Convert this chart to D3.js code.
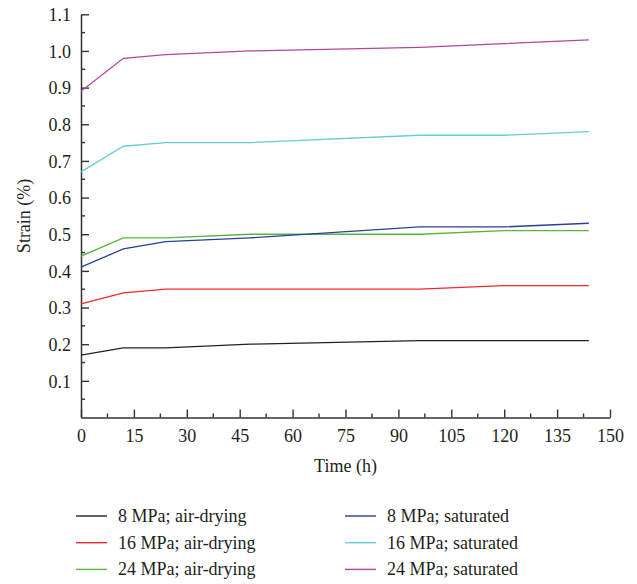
<!DOCTYPE html>
<html>
<head>
<meta charset="utf-8">
<script src="https://cdn.jsdelivr.net/npm/d3@7"></script>
<style>
  html, body { margin: 0; padding: 0; background: #fff; }
  svg { display: block; }
  text { font-family: "Liberation Serif", "DejaVu Serif", serif; fill: #231f20; }
</style>
</head>
<body>
<svg id="chart" width="637" height="584"></svg>
<script>
// Sampling times (h)
const times = [0, 12, 24, 48, 96, 120, 144];

// Strain (%) for each loading case
const air8  = [0.17, 0.19, 0.19, 0.20, 0.21, 0.21, 0.21];
const air16 = [0.31, 0.34, 0.35, 0.35, 0.35, 0.36, 0.36];
const air24 = [0.44, 0.49, 0.49, 0.50, 0.50, 0.51, 0.51];
const sat8  = [0.41, 0.46, 0.48, 0.49, 0.52, 0.52, 0.53];
const sat16 = [0.67, 0.74, 0.75, 0.75, 0.77, 0.77, 0.78];
const sat24 = [0.89, 0.98, 0.99, 1.00, 1.01, 1.02, 1.03];

const seriesNames = [
  "8 MPa; air-drying", "16 MPa; air-drying", "24 MPa; air-drying",
  "8 MPa; saturated", "16 MPa; saturated", "24 MPa; saturated"
];
const seriesColors = ["#222222", "#ee2a2a", "#5ab43c", "#2c3d96", "#66ccdb", "#b0479d"];

const xTicks = [0, 15, 30, 45, 60, 75, 90, 105, 120, 135, 150];
const yTicks = [0.1, 0.2, 0.3, 0.4, 0.5, 0.6, 0.7, 0.8, 0.9, 1.0, 1.1];

const series = [air8, air16, air24, sat8, sat16, sat24].map((vals, i) => ({
  name: seriesNames[i],
  color: seriesColors[i],
  points: vals.map((v, j) => [times[j], v])
}));

const svg = d3.select("#chart");
const x = d3.scaleLinear().domain([0, 150]).range([81, 610]);
const y = d3.scaleLinear().domain([0, 1.1]).range([417.5, 14.3]);

const axisColor = "#333";
const fontSize = "18px";

// Minor ticks (inward)
const xMinor = d3.range(7.5, 150, 15);
const yMinor = d3.range(0.05, 1.1, 0.1);

const gx = svg.append("g").attr("transform", `translate(0,${y(0)})`);
gx.call(d3.axisBottom(x).tickValues(xTicks).tickSizeInner(-8).tickSizeOuter(0).tickPadding(12)
  .tickFormat(d3.format("d")));
gx.selectAll(".minor").data(xMinor).join("line")
  .attr("x1", d => x(d)).attr("x2", d => x(d)).attr("y1", 0).attr("y2", -4);

const gy = svg.append("g").attr("transform", `translate(${x(0)},0)`);
gy.call(d3.axisLeft(y).tickValues(yTicks).tickSizeInner(-8).tickSizeOuter(0).tickPadding(10)
  .tickFormat(d3.format(".1f")));
gy.selectAll(".minor").data(yMinor).join("line")
  .attr("y1", d => y(d)).attr("y2", d => y(d)).attr("x1", 0).attr("x2", 4);

[gx, gy].forEach(g => {
  g.select(".domain").attr("stroke", axisColor).attr("stroke-width", 1.5);
  g.selectAll("line").attr("stroke", axisColor).attr("stroke-width", 1.4);
  g.selectAll("text").style("font-family", '"Liberation Serif", serif')
    .style("font-size", fontSize).attr("fill", "#231f20");
});
gy.selectAll(".tick text").attr("dy", "0.35em");

// Axis titles
svg.append("text").attr("x", (x(0) + x(150)) / 2).attr("y", 472)
  .attr("text-anchor", "middle").style("font-size", fontSize).text("Time (h)");
svg.append("text")
  .attr("transform", `translate(30,${(y(0) + y(1.1)) / 2}) rotate(-90)`)
  .attr("text-anchor", "middle").style("font-size", fontSize).text("Strain (%)");

// Series lines
const line = d3.line().x(d => x(d[0])).y(d => y(d[1]));
svg.append("g").selectAll("path").data(series).join("path")
  .attr("d", d => line(d.points))
  .attr("fill", "none")
  .attr("stroke", d => d.color)
  .attr("stroke-width", 1.3);

// Legend, two columns of three
const legend = svg.append("g");
series.forEach((s, i) => {
  const col = Math.floor(i / 3), row = i % 3;
  const lx = col === 0 ? 76 : 345;
  const ly = 516 + row * 26.7;
  legend.append("line").attr("x1", lx).attr("x2", lx + 31).attr("y1", ly).attr("y2", ly)
    .attr("stroke", s.color).attr("stroke-width", 1.4);
  legend.append("text").attr("x", lx + 42).attr("y", ly).attr("dy", "0.33em")
    .style("font-size", fontSize).text(s.name);
});
</script>
</body>
</html>
